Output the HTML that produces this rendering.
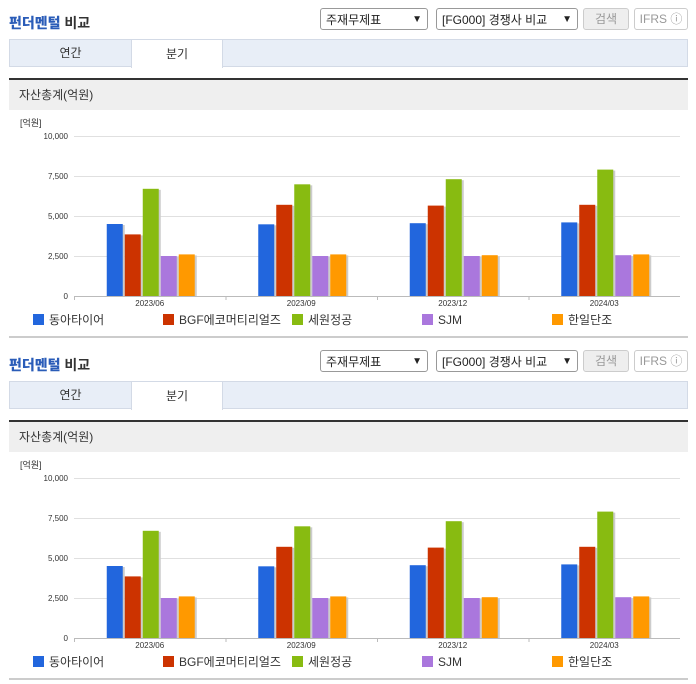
<!DOCTYPE html>
<html><head><meta charset="utf-8"><style>
body{margin:0;width:696px;height:684px;background:#fff;font-family:"Liberation Sans","Noto Sans CJK KR",sans-serif;position:relative;overflow:hidden}
.panel{position:absolute;left:0;width:696px;height:342px}
.title{position:absolute;left:9px;top:13px;font-size:14px;font-weight:bold;color:#333}
.title b{color:#2a5cb8}
.sel{position:absolute;top:8px;height:22px;border:1px solid #999;border-radius:3px;font-size:12px;line-height:22px;padding-left:5px;box-sizing:border-box;color:#222;background:#fff}
.sel span{position:absolute;right:5px;top:0;font-size:10px}
.btn{position:absolute;top:8px;height:22px;border:1px solid #ccc;border-radius:3px;font-size:12px;line-height:20px;text-align:center;box-sizing:border-box;color:#999;background:#eee}
.tabs{position:absolute;left:9px;top:39px;width:679px;height:28px;background:#e8eef7;border:1px solid #d3dae6;box-sizing:border-box}
.tab{position:absolute;top:-1px;height:29px;font-size:12px;line-height:28px;text-align:center;color:#333}
.sec{position:absolute;left:9px;top:78px;width:679px;height:32px;background:#efefef;border-top:2px solid #333;box-sizing:border-box;font-size:12px;line-height:30px;padding-left:10px;color:#333}
.bottom{position:absolute;left:9px;top:336px;width:679px;height:2px;background:#ccc}
svg{position:absolute;left:0;top:110px}
</style></head><body>
<script>
const categories=["2023/06","2023/09","2023/12","2024/03"];
const seriesNames=["동아타이어","BGF에코머티리얼즈","세원정공","SJM","한일단조"];
const seriesColors=["#2266dd","#cc3300","#88bb11","#aa77dd","#ff9900"];
const s0=[4500,4480,4550,4600];
const s1=[3850,5700,5650,5700];
const s2=[6700,6980,7300,7900];
const s3=[2500,2500,2500,2550];
const s4=[2600,2600,2550,2600];
const yTicks=[0,2500,5000,7500,10000];
const yTickLabels=["0","2,500","5,000","7,500","10,000"];
const series=[s0,s1,s2,s3,s4];
const NS="http://www.w3.org/2000/svg";
const x0=74,x1=680,y0=186,yTop=26,yMax=10000;
const yS=v=>y0-(v/yMax)*(y0-yTop);
const gw=(x1-x0)/categories.length;
function mk(t,a,p){const e=document.createElementNS(NS,t);for(const k in a)e.setAttribute(k,a[k]);p.appendChild(e);return e;}
function panel(top){
 const d=document.createElement('div');d.className='panel';d.style.top=top+'px';
 
 
 d.innerHTML=`<div class="title"><b>펀더멘털</b> 비교</div>
 <div class="sel" style="left:320px;width:108px">주재무제표<span>▼</span></div>
 <div class="sel" style="left:436px;width:142px">[FG000] 경쟁사 비교<span>▼</span></div>
 <div class="btn" style="left:583px;width:46px">검색</div>
 <div class="btn" style="left:634px;width:54px;background:#fff">IFRS ⓘ</div>
 <div class="tabs">
  <div class="tab" style="left:0;width:121px">연간</div>
  <div class="tab" style="left:121px;width:92px;background:#fff;border:1px solid #d3dae6;border-bottom:none;box-sizing:border-box">분기</div></div>
 <div class="sec">자산총계(억원)</div>
 <div class="bottom"></div>`;
 const svg=document.createElementNS(NS,'svg');svg.setAttribute('width',696);svg.setAttribute('height',226);
 
 
 d.appendChild(svg);
 const u=mk('text',{x:20,y:16,'font-size':9,fill:'#333'},svg);u.textContent='[억원]';
 
 
 yTicks.forEach((v,i)=>{
  mk('line',{x1:x0,x2:x1,y1:yS(v)+.5,y2:yS(v)+.5,stroke:i?'#e0e0e0':'#bbb'},svg);
  const t=mk('text',{x:68,y:yS(v)+3,'font-size':8,fill:'#333','text-anchor':'end'},svg);t.textContent=yTickLabels[i];
  
  
 });
 categories.forEach((c,ci)=>{
  const cx=x0+gw*(ci+.5);
  mk('line',{x1:x0+gw*ci+.5,x2:x0+gw*ci+.5,y1:y0,y2:y0+4,stroke:'#bbb'},svg);
  const t=mk('text',{x:cx,y:y0+10,'font-size':8,fill:'#333','text-anchor':'middle'},svg);t.textContent=c;
  
  
  series.forEach((s,si)=>{
   const bx=cx-43+si*18,by=yS(s[ci]);
   mk('rect',{x:bx+2,y:by+1,width:16,height:y0-by-1,fill:'#ccc'},svg);
   const r=mk('rect',{x:bx,y:by,width:16,height:y0-by,fill:seriesColors[si]},svg);
   
   
  });
 });
 const lx=[33,163,292,422,552];
 seriesNames.forEach((n,i)=>{
  const g=mk('g',{},svg);
  
  
  mk('rect',{x:lx[i],y:204,width:11,height:11,fill:seriesColors[i]},g);
  const t=mk('text',{x:lx[i]+16,y:214,'font-size':12,fill:'#333'},g);t.textContent=n;
 });
 document.body.appendChild(d);
}
panel(0);panel(342);
</script>
</body></html>
